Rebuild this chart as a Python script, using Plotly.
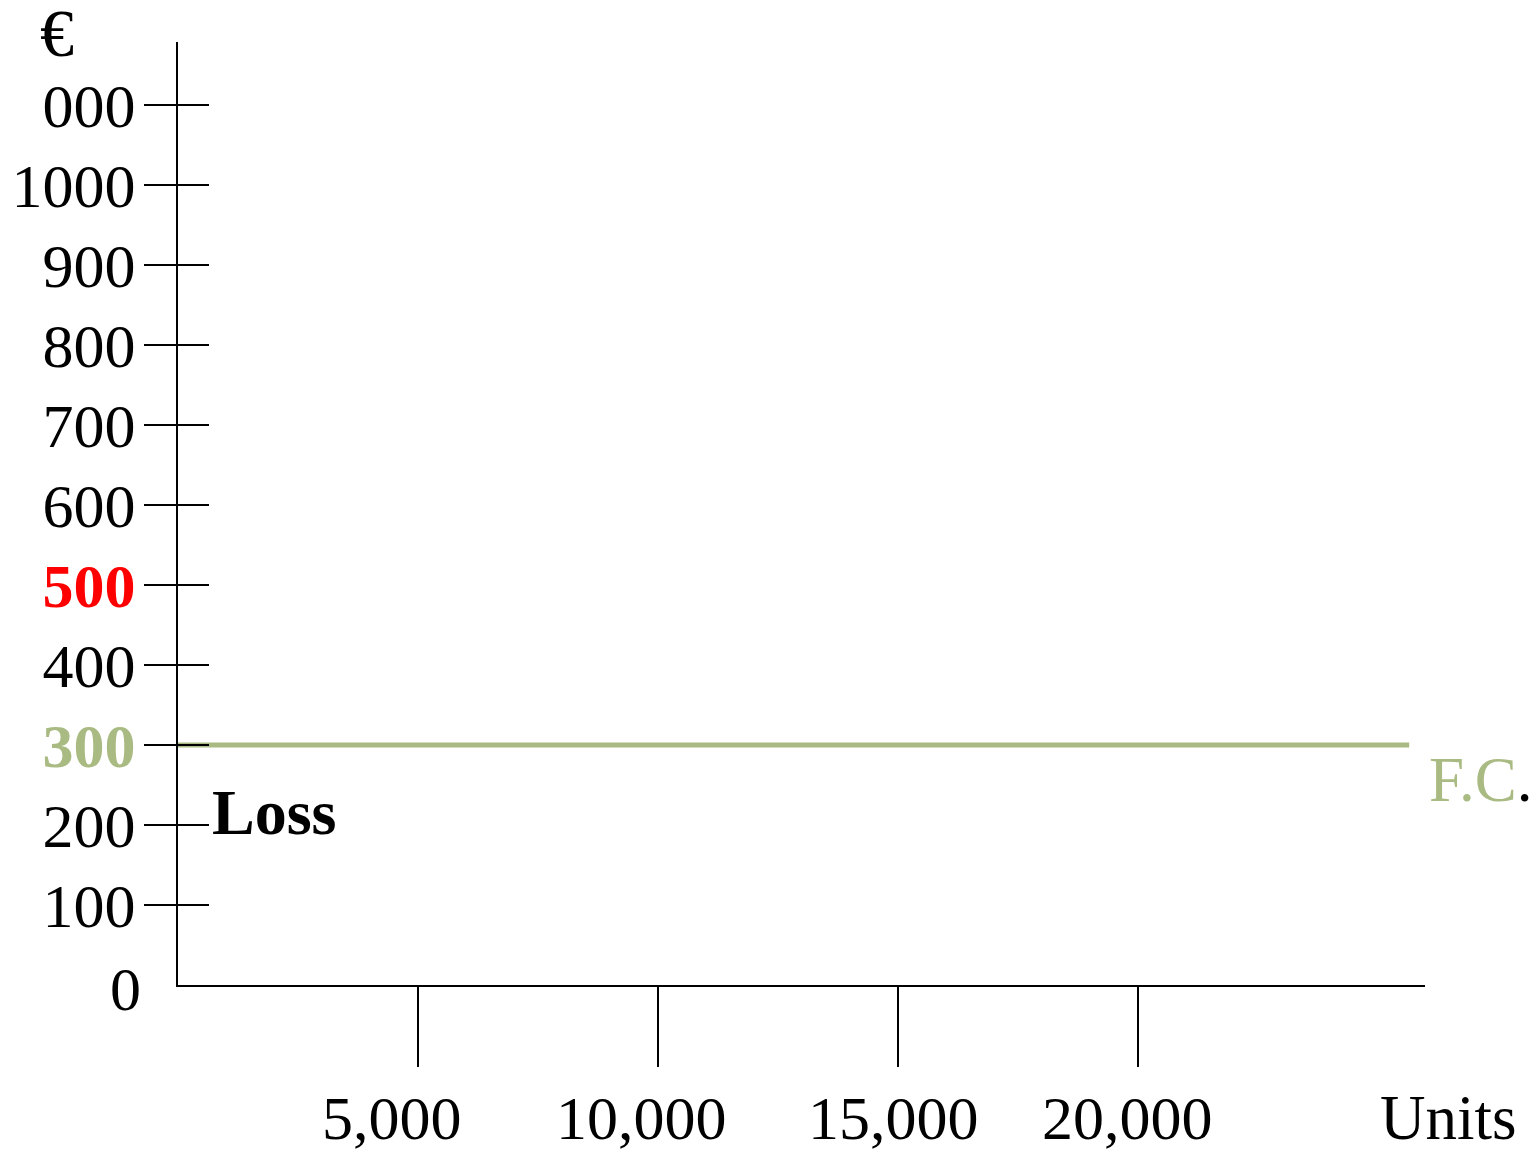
import plotly.graph_objects as go

# Cost-volume chart: fixed cost line against units produced
units_ticks = [5000, 10000, 15000, 20000]
units_labels = ["5,000", "10,000", "15,000", "20,000"]
euro_ticks = [100, 200, 300, 400, 500, 600, 700, 800, 900, 1000, 1100]
euro_labels = ["100", "200", "300", "400", "500", "600", "700", "800", "900", "1000", "000"]
fixed_cost = 300
fixed_cost_span = [0, 25650]
loss_label_pos = (2000, 216)

GREEN = "#a9bb83"
RED = "#ff0000"
FONT = "Liberation Serif"

# highlight the fixed-cost level and the 500 level on the value axis
styled_labels = []
for v, t in zip(euro_ticks, euro_labels):
    if v == fixed_cost:
        styled_labels.append(f"<b><span style='color:{GREEN}'>{t}</span></b>")
    elif v == 500:
        styled_labels.append(f"<b><span style='color:{RED}'>{t}</span></b>")
    else:
        styled_labels.append(t)

fig = go.Figure()

fig.add_trace(go.Scatter(
    x=fixed_cost_span, y=[fixed_cost, fixed_cost], mode="lines",
    line=dict(color=GREEN, width=5), showlegend=False, hoverinfo="skip",
    cliponaxis=False,
))
# invisible companion trace so the inner tick axis is rendered
fig.add_trace(go.Scatter(x=[0], y=[0], yaxis="y2", mode="markers",
                         marker=dict(opacity=0), showlegend=False, hoverinfo="skip"))

x_max = 25979
y_max = 1178.75

fig.update_layout(
    width=1537, height=1150,
    margin=dict(l=178, r=112, t=42, b=165, autoexpand=False),
    paper_bgcolor="white", plot_bgcolor="white",
    font=dict(family=FONT, color="black"),
    xaxis=dict(
        range=[0, x_max], showgrid=False, zeroline=False, automargin=False,
        showline=True, linecolor="black", linewidth=2,
        tickvals=units_ticks, ticks="outside", ticklen=80, tickwidth=2,
        tickcolor="black", showticklabels=False,
    ),
    yaxis=dict(
        range=[0, y_max], showgrid=False, zeroline=False, automargin=False,
        showline=True, linecolor="black", linewidth=2,
        tickvals=euro_ticks, ticktext=styled_labels,
        ticks="outside", ticklen=32, tickwidth=2, tickcolor="black",
        tickfont=dict(family=FONT, size=62, color="black"),
        ticklabelstandoff=-4,
    ),
    yaxis2=dict(
        range=[0, y_max], overlaying="y", side="left", automargin=False,
        showgrid=False, zeroline=False, showline=False,
        tickvals=euro_ticks, ticks="inside", ticklen=31, tickwidth=2,
        tickcolor="black", showticklabels=False,
    ),
)

annotations = []
# unit labels under the x ticks
x_label_shift = [-26, -17, -5, -11]
for v, t, s in zip(units_ticks, units_labels, x_label_shift):
    annotations.append(dict(
        x=v, y=0, xref="x", yref="y", text=t, showarrow=False,
        xanchor="center", yanchor="middle", xshift=s, yshift=-133,
        font=dict(family=FONT, size=62, color="black"),
    ))
# zero on the value axis
annotations.append(dict(
    x=0, y=0, xref="x", yref="y", text="0", showarrow=False,
    xanchor="right", yanchor="middle", xshift=-35, yshift=-4,
    font=dict(family=FONT, size=62, color="black"),
))
# axis titles
annotations.append(dict(
    x=-0.097, y=1.0095, xref="paper", yref="paper", text="€", showarrow=False,
    xanchor="center", yanchor="middle",
    font=dict(family=FONT, size=68, color="black"),
))
annotations.append(dict(
    x=1.019, y=-0.141, xref="paper", yref="paper", text="Units", showarrow=False,
    xanchor="center", yanchor="middle",
    font=dict(family=FONT, size=63, color="black"),
))
# fixed cost line label
annotations.append(dict(
    x=fixed_cost_span[1], y=fixed_cost, xref="x", yref="y",
    text=f"<span style='color:{GREEN}'>F.C</span>.", showarrow=False,
    xanchor="left", yanchor="middle", xshift=18, yshift=-35,
    font=dict(family=FONT, size=63, color="black"),
))
# loss region label
annotations.append(dict(
    x=loss_label_pos[0], y=loss_label_pos[1], xref="x", yref="y",
    text="<b>Loss</b>", showarrow=False, xanchor="center", yanchor="middle",
    font=dict(family=FONT, size=64, color="black"),
))

fig.update_layout(annotations=annotations)

fig.write_html("out.html")
